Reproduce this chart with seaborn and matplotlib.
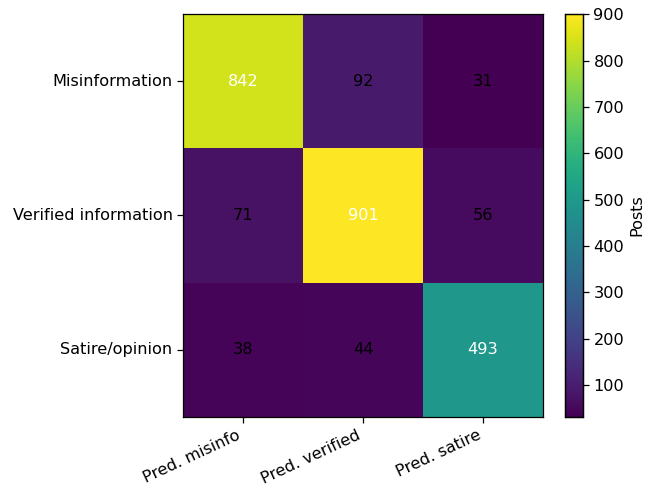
import matplotlib
matplotlib.use("Agg")
import matplotlib.pyplot as plt
import seaborn as sns
import numpy as np

rows = ["Misinformation", "Verified information", "Satire/opinion"]
cols = ["Pred. misinfo", "Pred. verified", "Pred. satire"]
values = [[842, 92, 31],
          [71, 901, 56],
          [38, 44, 493]]
white_cells = [(0, 0), (1, 1), (2, 2)]

data = np.array(values)
fs = 11.6

fig = plt.figure(figsize=(6.49, 4.87), dpi=100)
ax = fig.add_axes([183/649, 1-417/487, 360/649, 403/487])
cax = fig.add_axes([565/649, 1-417/487, 18/649, 403/487])

sns.heatmap(data, ax=ax, cbar_ax=cax, cmap="viridis", vmin=data.min(), vmax=data.max(),
            annot=True, fmt="d", annot_kws={"fontsize": fs},
            xticklabels=cols, yticklabels=rows, cbar_kws={"label": "Posts"})

for t in ax.texts:
    x, y = t.get_position()
    r, c = int(y), int(x)
    t.set_color("white" if (r, c) in white_cells else "black")

for s in ax.spines.values():
    s.set_visible(True)
    s.set_color("black")
    s.set_linewidth(0.9)
cax.set_frame_on(True)
for s in cax.spines.values():
    s.set_visible(True)
    s.set_linewidth(0.9)

ax.tick_params(axis="both", length=4, width=0.9, labelsize=fs)
ax.set_yticklabels(rows, rotation=0)
ax.set_xticklabels(cols, rotation=25, ha="right")
cax.tick_params(labelsize=fs, length=4, width=0.9)
cax.yaxis.label.set_size(fs)

fig.savefig("out.png", dpi=100)
